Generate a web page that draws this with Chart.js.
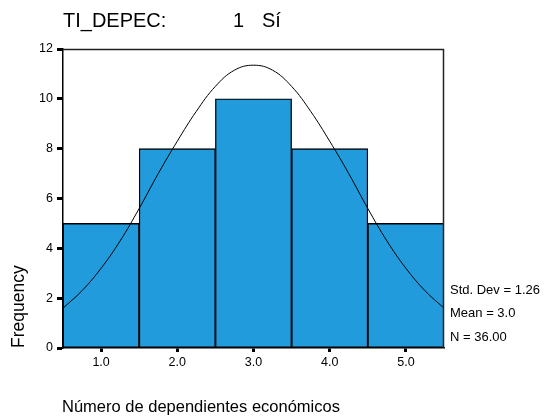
<!DOCTYPE html>
<html>
<head>
<meta charset="utf-8">
<script src="https://cdn.jsdelivr.net/npm/chart.js@4.4.1/dist/chart.umd.min.js"></script>
<style>
html,body{margin:0;padding:0;background:#fff;}
canvas{display:block;}
</style>
</head>
<body>
<canvas id="c" width="555" height="417"></canvas>
<script>
// ---- data ----
const categories = [1, 2, 3, 4, 5];
const frequencies = [5, 8, 10, 8, 5];
const curveX = [0.5, 0.75, 1.0, 1.25, 1.5, 1.75, 2.0, 2.25, 2.5, 2.75, 3.0, 3.25, 3.5, 3.75, 4.0, 4.25, 4.5, 4.75, 5.0, 5.25, 5.5];
const curveY = [1.6, 2.3, 3.2, 4.3, 5.6, 7.0, 8.3, 9.5, 10.5, 11.15, 11.35, 11.15, 10.5, 9.5, 8.3, 7.0, 5.6, 4.3, 3.2, 2.3, 1.6];
const xTickValues = [1, 2, 3, 4, 5];
const yTickValues = [0, 2, 4, 6, 8, 10, 12];
const titleParts = ['TI_DEPEC:', '1', 'Sí'];
const yTitle = 'Frequency';
const xTitle = 'Número de dependientes económicos';
const statsLines = ['Std. Dev = 1.26', 'Mean = 3.0', 'N = 36.00'];

const FONT = "'Liberation Sans', Arial, sans-serif";

const textPlugin = {
  id: 'texts',
  afterDraw(chart) {
    const ctx = chart.ctx;
    const a = chart.chartArea;
    ctx.save();
    // frame top/right
    ctx.strokeStyle = '#222';
    ctx.lineWidth = 1.5;
    ctx.beginPath();
    ctx.moveTo(a.left, a.top + 0.5);
    ctx.lineTo(a.right - 0.5, a.top + 0.5);
    ctx.lineTo(a.right - 0.5, a.bottom);
    ctx.stroke();

    ctx.fillStyle = '#000';
    // title
    ctx.font = '20px ' + FONT;
    ctx.textBaseline = 'alphabetic';
    ctx.textAlign = 'left';
    ctx.fillText(titleParts[0], 63, 27);
    ctx.fillText(titleParts[1], 233, 27);
    ctx.fillText(titleParts[2], 262, 27);
    // y title
    ctx.save();
    ctx.translate(24, 348);
    ctx.rotate(-Math.PI / 2);
    ctx.font = '17.5px ' + FONT;
    ctx.fillText(yTitle, 0, 0);
    ctx.restore();
    // x title
    ctx.font = '16.5px ' + FONT;
    ctx.fillText(xTitle, 62, 412);
    // stats
    ctx.font = '13px ' + FONT;
    ctx.textBaseline = 'middle';
    const ys = [290, 313, 337];
    statsLines.forEach((s, i) => ctx.fillText(s, 450, ys[i]));
    ctx.restore();
  }
};

new Chart(document.getElementById('c'), {
  data: {
    datasets: [
      {
        type: 'line',
        data: curveX.map((x, i) => ({ x: x, y: curveY[i] })),
        borderColor: '#000',
        borderWidth: 1,
        pointRadius: 0,
        tension: 0.4,
        fill: false,
        order: 0
      },
      {
        type: 'bar',
        data: categories.map((c, i) => ({ x: c, y: frequencies[i] })),
        backgroundColor: '#229BDD',
        borderColor: '#000',
        borderWidth: 1.3,
        borderSkipped: false,
        barPercentage: 1,
        categoryPercentage: 1,
        order: 1
      }
    ]
  },
  options: {
    responsive: false,
    animation: false,
    layout: { padding: { top: 49, right: 111, left: 0, bottom: 0 } },
    plugins: { legend: { display: false }, tooltip: { enabled: false }, title: { display: false } },
    scales: {
      x: {
        type: 'linear',
        min: 0.5,
        max: 5.5,
        offset: false,
        afterFit(s) { s.height = 69; },
        afterBuildTicks(s) { s.ticks = xTickValues.map(v => ({ value: v })); },
        ticks: {
          color: '#000',
          font: { family: FONT, size: 12.5 },
          padding: 3,
          maxRotation: 0,
          callback: v => Number(v).toFixed(1)
        },
        grid: { display: true, offset: false, drawOnChartArea: false, drawTicks: true, tickLength: 4, tickWidth: 3, tickColor: '#000' },
        border: { display: true, color: '#000', width: 1.5 }
      },
      y: {
        type: 'linear',
        min: 0,
        max: 12,
        afterFit(s) { s.width = 63; },
        afterBuildTicks(s) { s.ticks = yTickValues.map(v => ({ value: v })); },
        ticks: {
          color: '#000',
          font: { family: FONT, size: 12.5 },
          padding: 4
        },
        grid: { display: true, offset: false, drawOnChartArea: false, drawTicks: true, tickLength: 6, tickWidth: 3, tickColor: '#000' },
        border: { display: true, color: '#000', width: 1.5 }
      }
    }
  },
  plugins: [textPlugin]
});
</script>
</body>
</html>
